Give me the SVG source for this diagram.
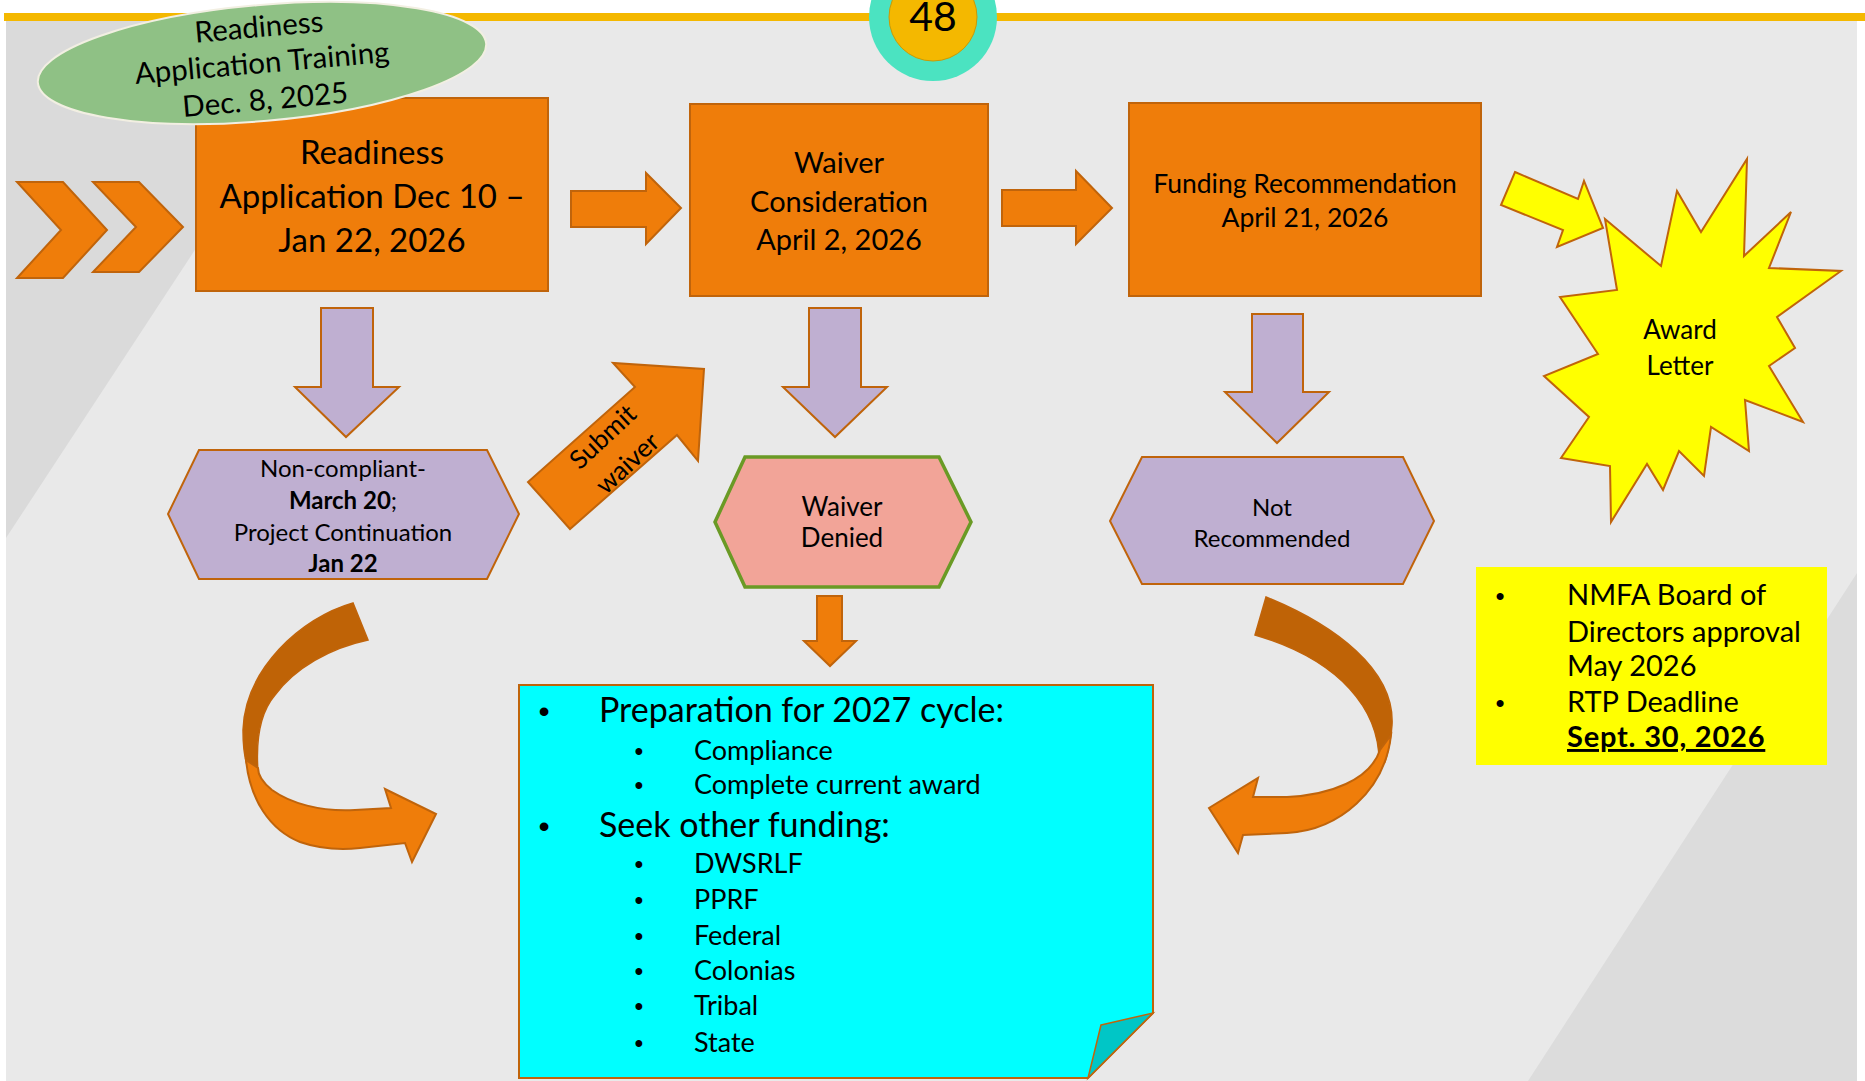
<svg xmlns="http://www.w3.org/2000/svg" width="1865" height="1081" viewBox="0 0 1865 1081">
<style>
.or{fill:#ef7d0a;stroke:#c0640b;stroke-width:2}
.dk{fill:#bf6306;stroke:#c0640b;stroke-width:1.5}
.pu{fill:#bfafd1;stroke:#c0640b;stroke-width:2}
.ye{fill:#ffff00;stroke:#c0640b;stroke-width:2}
.t{font-family:Lato,'Open Sans',sans-serif;fill:#000}
.c{text-anchor:middle}
.b{font-family:'Liberation Sans',Arial,sans-serif;fill:#000}
</style>
<rect x="0" y="0" width="1865" height="1081" fill="#ffffff"/>
<rect x="6" y="21" width="1851" height="1060" fill="#e9e9e9"/>
<polygon points="6,21 345,21 6,538" fill="#dadada"/>
<polygon points="1857,573 1857,1081 1528,1081" fill="#dcdcdc"/>
<rect x="4" y="13" width="1861" height="8" fill="#f4b800"/>

<g id="page-number">
<ellipse cx="933" cy="17" rx="64" ry="64" fill="#4be3c1"/>
<ellipse cx="933" cy="17" rx="44" ry="44" fill="#f4b800" stroke="#c99a06" stroke-width="1"/>
<text class="t c" x="933" y="31" font-size="41">48</text>
</g>

<g id="connectors">
<polygon class="or" points="17,182 63,182 107,230 63,278 17,278 61,230"/>
<polygon class="or" points="93,182 139,182 183,227 139,272 93,272 136,227"/>
<polygon class="or" points="571,191 646,191 646,173 681,208 646,244 646,227 571,227"/>
<polygon class="or" points="1002,190 1076,190 1076,171 1112,208 1076,244 1076,226 1002,226"/>
<polygon class="ye" points="1515,172 1578,199 1584,181 1603,228 1557,247 1563,230 1501,205"/>
<polygon class="pu" points="321,308 373,308 373,387 399,387 346,437 295,387 321,387"/>
<polygon class="pu" points="809,308 861,308 861,387 887,387 835,437 783,387 809,387"/>
<polygon class="pu" points="1252,314 1303,314 1303,392 1329,392 1277,443 1225,392 1252,392"/>
<polygon class="or" points="817,596 842,596 842,641 856,641 830,666 804,641 817,641"/>
<g id="submit-waiver">
<polygon class="or" points="635,387 613,363 704,369 698,461 677,435 570,529 528,482"/>
<g transform="translate(615,450) rotate(-43)">
<text class="t c" x="0" y="-9" font-size="26">Submit</text>
<text class="t c" x="0" y="27" font-size="26">waiver</text>
</g>
</g>
<path class="dk" d="M353,603 C300,618 245,670 243,730 C243,748 245,760 248,768 L258,772 C256,745 258,715 275,695 C295,668 330,648 368,640 Z"/>
<path class="or" d="M246,760 C250,800 270,830 300,842 C320,849 340,850 360,848 L405,843 L412,862 L436,814 L385,789 L391,808 L355,810 C320,812 290,803 272,790 C262,782 258,775 258,768 Z"/>
<path class="dk" d="M1266,597 C1335,625 1395,670 1392,725 C1391,740 1388,752 1385,762 L1379,765 C1381,710 1340,660 1255,635 Z"/>
<path class="or" d="M1391,735 C1385,790 1340,830 1287,833 L1243,835 L1238,853 L1209,808 L1258,778 L1253,797 L1287,797 C1330,795 1370,780 1380,750 Z"/>
</g>

<g id="readiness-application">
<rect class="or" x="196" y="98" width="352" height="193"/>
<text class="t c" x="372" y="164" font-size="33">Readiness</text>
<text class="t c" x="372" y="208" font-size="33">Application Dec 10 –</text>
<text class="t c" x="372" y="252" font-size="33">Jan 22, 2026</text>
</g>

<g id="training">
<ellipse cx="262" cy="63" rx="225" ry="58" transform="rotate(-5 262 63)" fill="#8fc185" stroke="#f2efe2" stroke-width="2"/>
<g transform="translate(262,63) rotate(-5)">
<text class="t c" x="0" y="-26" font-size="29.5">Readiness</text>
<text class="t c" x="0" y="10" font-size="29.5">Application Training</text>
<text class="t c" x="0" y="47" font-size="29.5">Dec. 8, 2025</text>
</g>
</g>

<g id="waiver-consideration">
<rect class="or" x="690" y="104" width="298" height="192"/>
<text class="t c" x="839" y="173" font-size="29">Waiver</text>
<text class="t c" x="839" y="212" font-size="29">Consideration</text>
<text class="t c" x="839" y="250" font-size="29">April 2, 2026</text>
</g>

<g id="funding-recommendation">
<rect class="or" x="1129" y="103" width="352" height="193"/>
<text class="t c" x="1305" y="193" font-size="26.5">Funding Recommendation</text>
<text class="t c" x="1305" y="227" font-size="26.5">April 21, 2026</text>
</g>

<g id="award-letter">
<polygon class="ye" points="1605,219 1661,266 1677,191 1701,232 1747,159 1744,256 1791,212 1769,268 1841,271 1777,317 1795,348 1769,366 1803,422 1745,400 1749,451 1711,427 1704,476 1679,451 1663,490 1647,464 1611,522 1610,466 1561,458 1589,417 1544,376 1598,354 1560,297 1617,290"/>
<text class="t c" x="1680" y="339" font-size="26">Award</text>
<text class="t c" x="1680" y="375" font-size="26">Letter</text>
</g>

<g id="non-compliant">
<polygon class="pu" points="199,450 487,450 519,514 487,579 199,579 168,514"/>
<text class="t c" x="343" y="477" font-size="24">Non-compliant-</text>
<text class="t c" x="343" y="509" font-size="24"><tspan font-weight="bold">March 20</tspan>;</text>
<text class="t c" x="343" y="541" font-size="24">Project Continuation</text>
<text class="t c" x="343" y="572" font-size="24" font-weight="bold">Jan 22</text>
</g>

<g id="waiver-denied">
<polygon points="745,457 939,457 971,522 939,587 745,587 715,522" fill="#f2a498" stroke="#6a9a25" stroke-width="3.5"/>
<text class="t c" x="842" y="516" font-size="26">Waiver</text>
<text class="t c" x="842" y="547" font-size="26">Denied</text>
</g>

<g id="not-recommended">
<polygon class="pu" points="1142,457 1403,457 1434,521 1403,584 1142,584 1110,521"/>
<text class="t c" x="1272" y="516" font-size="24">Not</text>
<text class="t c" x="1272" y="547" font-size="24">Recommended</text>
</g>

<g id="next-steps">
<path d="M519,685 L1153,685 L1153,1013 L1088,1078 L519,1078 Z" fill="#00ffff" stroke="#c0640b" stroke-width="2"/>
<polygon points="1101,1025 1153,1013 1088,1078" fill="#00c6c6" stroke="#c0640b" stroke-width="1.5"/>
<text class="b c" x="544" y="722" font-size="32">•</text>
<text class="t" x="599" y="722" font-size="34">Preparation for 2027 cycle:</text>
<text class="b c" x="639" y="760" font-size="25">•</text>
<text class="t" x="694" y="760" font-size="27">Compliance</text>
<text class="b c" x="639" y="794" font-size="25">•</text>
<text class="t" x="694" y="794" font-size="27">Complete current award</text>
<text class="b c" x="544" y="837" font-size="32">•</text>
<text class="t" x="599" y="837" font-size="34">Seek other funding:</text>
<text class="b c" x="639" y="873" font-size="25">•</text>
<text class="t" x="694" y="873" font-size="27">DWSRLF</text>
<text class="b c" x="639" y="909" font-size="25">•</text>
<text class="t" x="694" y="909" font-size="27">PPRF</text>
<text class="b c" x="639" y="945" font-size="25">•</text>
<text class="t" x="694" y="945" font-size="27">Federal</text>
<text class="b c" x="639" y="980" font-size="25">•</text>
<text class="t" x="694" y="980" font-size="27">Colonias</text>
<text class="b c" x="639" y="1015" font-size="25">•</text>
<text class="t" x="694" y="1015" font-size="27">Tribal</text>
<text class="b c" x="639" y="1052" font-size="25">•</text>
<text class="t" x="694" y="1052" font-size="27">State</text>
</g>

<g id="deadlines">
<rect x="1476" y="567" width="351" height="198" fill="#ffff00"/>
<text class="b c" x="1500" y="605" font-size="26">•</text>
<text class="t" x="1567" y="605" font-size="29">NMFA Board of</text>
<text class="t" x="1567" y="642" font-size="29">Directors approval</text>
<text class="t" x="1567" y="676" font-size="29">May 2026</text>
<text class="b c" x="1500" y="712" font-size="26">•</text>
<text class="t" x="1567" y="712" font-size="29">RTP Deadline</text>
<text class="t" x="1567" y="747" font-size="29" font-weight="bold" letter-spacing="0.8" text-decoration="underline">Sept. 30, 2026</text>
</g>
</svg>
